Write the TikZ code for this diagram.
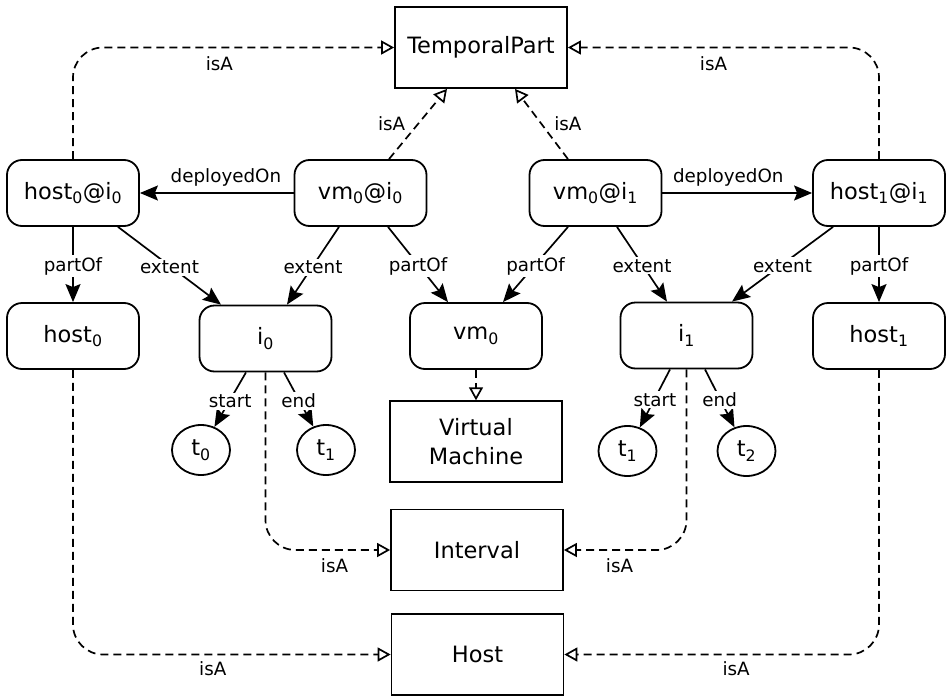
\documentclass[tikz,border=0pt]{standalone}
\usepackage{fontspec}
\setmainfont{DejaVu Sans}
\usetikzlibrary{arrows.meta,calc,shapes.geometric}
\newcommand\lidx[1]{\textsubscript{#1}}

\tikzset{
  base/.style={draw, line width=1.8pt, inner sep=0pt, align=center,
    font=\fontsize{22.5}{29}\selectfont},
  entity/.style={base, rounded corners=15pt, minimum width=132pt, minimum height=66pt},
  klass/.style={base, minimum width=172pt, minimum height=81pt},
  timept/.style={base, ellipse, minimum width=58pt, minimum height=50pt},
  rel/.style={line width=1.7pt, -{Stealth[length=18pt,width=15pt,inset=3pt]}},
  isa/.style={line width=1.7pt, dash pattern=on 8pt off 5pt,
    -{Triangle[open,length=13pt,width=14pt]}, rounded corners=30pt},
  lbl/.style={font=\fontsize{18.3}{20}\selectfont, inner sep=2pt},
  onlbl/.style={lbl, fill=white, yshift=-1.5pt},
}

\begin{document}
\begin{tikzpicture}[x=1pt,y=-1pt]
\useasboundingbox (0,0) rectangle (948,696);

% classes
\node[klass] (tp) at (481,47.5) {TemporalPart};
\node[klass] (vmc) at (476,441.7) {Virtual\\Machine};
\node[klass] (ivc) at (477,550) {Interval};
\node[klass] (hc) at (477.5,654.5) {Host};

% temporal parts
\node[entity] (hA) at (73,193) {host\lidx{0}@i\lidx{0}};
\node[entity] (vA) at (360.5,193) {vm\lidx{0}@i\lidx{0}};
\node[entity] (vB) at (595.5,193) {vm\lidx{0}@i\lidx{1}};
\node[entity] (hB) at (879,193) {host\lidx{1}@i\lidx{1}};

% individuals and intervals
\node[entity] (h0) at (73,336) {host\lidx{0}};
\node[entity] (i0) at (265.5,338.5) {i\lidx{0}};
\node[entity] (vm) at (476,336) {vm\lidx{0}};
\node[entity] (i1) at (686.5,335.5) {i\lidx{1}};
\node[entity] (h1) at (879,336) {host\lidx{1}};

% time points
\node[timept] (tA) at (201,450) {t\lidx{0}};
\node[timept] (tB) at (326,450) {t\lidx{1}};
\node[timept] (tC) at (627.5,451) {t\lidx{1}};
\node[timept] (tD) at (746.5,451) {t\lidx{2}};

% deployedOn
\draw[rel] (vA.west) -- node[lbl, above=3.5pt, pos=0.44] {deployedOn} (hA.east);
\draw[rel] (vB.east) -- node[lbl, above=3.5pt, pos=0.44] {deployedOn} (hB.west);

% partOf / extent
\draw[rel] (hA.south) -- node[onlbl] {partOf} (h0.north);
\draw[rel] ([xshift=45pt]hA.south) -- node[onlbl] {extent} ([xshift=-44.5pt]i0.north);
\draw[rel] ([xshift=-21.5pt]vA.south) -- node[onlbl] {extent} ([xshift=21.5pt]i0.north);
\draw[rel] ([xshift=27.5pt]vA.south) -- node[onlbl] {partOf} ([xshift=-28pt]vm.north);
\draw[rel] ([xshift=-27.5pt]vB.south) -- node[onlbl] {partOf} ([xshift=27pt]vm.north);
\draw[rel] ([xshift=21.5pt]vB.south) -- node[onlbl] {extent} ([xshift=-19.5pt]i1.north);
\draw[rel] ([xshift=-46pt]hB.south) -- node[onlbl] {extent} ([xshift=45.5pt]i1.north);
\draw[rel] (hB.south) -- node[onlbl] {partOf} (h1.north);

% start / end
\draw[rel] ([xshift=-19.5pt]i0.south) -- node[onlbl] {start} (tA);
\draw[rel] ([xshift=18.5pt]i0.south) -- node[onlbl] {end} (tB);
\draw[rel] ([xshift=-16.5pt]i1.south) -- node[onlbl] {start} (tC);
\draw[rel] ([xshift=18.5pt]i1.south) -- node[onlbl] {end} (tD);

% isA
\draw[isa] (hA.north) |- node[lbl, below=6pt, pos=0.728] {isA} (tp.west);
\draw[isa] (hB.north) |- node[lbl, below=6pt, pos=0.766] {isA} (tp.east);
\draw[isa] ([xshift=28.5pt]vA.north) -- node[lbl, midway, left=10pt] {isA} ([xshift=-34pt]tp.south);
\draw[isa] ([xshift=-27.5pt]vB.north) -- node[lbl, midway, right=10pt] {isA} ([xshift=34pt]tp.south);
\draw[isa] (vm.south) -- (vmc.north);
\draw[isa] (i0.south) |- node[lbl, below=6pt, pos=0.777] {isA} (ivc.west);
\draw[isa] (i1.south) |- node[lbl, below=6pt, pos=0.773] {isA} (ivc.east);
\draw[isa] (h0.south) |- node[lbl, below=4pt, pos=0.72] {isA} (hc.west);
\draw[isa] (h1.south) |- node[lbl, below=4pt, pos=0.727] {isA} (hc.east);
\end{tikzpicture}
\end{document}
